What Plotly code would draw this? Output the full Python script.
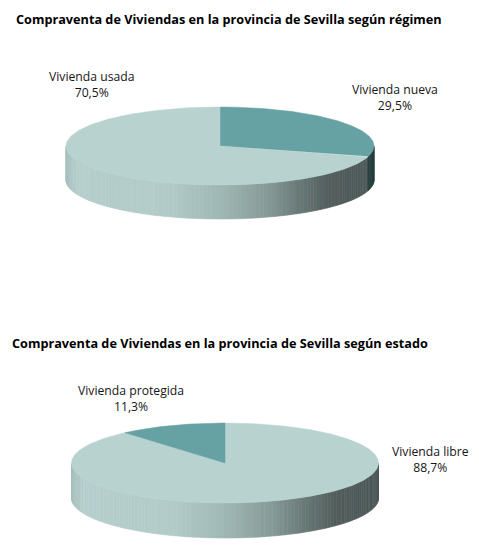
import math
import plotly.graph_objects as go

# ---- data ----
titles = [
    "Compraventa de Viviendas en la provincia de Sevilla según régimen",
    "Compraventa de Viviendas en la provincia de Sevilla según estado",
]
cats_regimen = ["Vivienda nueva", "Vivienda usada"]
vals_regimen = [29.5, 70.5]
cats_estado = ["Vivienda libre", "Vivienda protegida"]
vals_estado = [88.7, 11.3]

# ---- styling / geometry ----
W, H = 479, 549
top_colors = {"Vivienda nueva": "#66a1a4", "Vivienda usada": "#b7d2cf",
              "Vivienda libre": "#b7d2cf", "Vivienda protegida": "#66a1a4"}
light_stops = [(0.0, (166, 191, 189)), (0.04, (181, 206, 204)), (0.33, (178, 203, 200)),
               (0.5, (160, 184, 181)), (0.65, (135, 155, 152)), (0.76, (104, 121, 118)),
               (0.86, (82, 93, 92)), (1.0, (76, 88, 87))]
dark_stops = [(0.0, (60, 95, 96)), (0.8, (45, 72, 72)), (1.0, (36, 60, 60))]
wall_style = {"Vivienda nueva": dark_stops, "Vivienda usada": light_stops,
              "Vivienda libre": light_stops, "Vivienda protegida": dark_stops}

charts = [
    dict(cats=cats_regimen, vals=vals_regimen, cx=220, cy=146, rx=154, ry=39, depth=34,
         title_xy=(14, 19),
         label_xy={"Vivienda usada": (92, 84), "Vivienda nueva": (395, 97)}),
    dict(cats=cats_estado, vals=vals_estado, cx=225, cy=463, rx=153.5, ry=40, depth=35,
         title_xy=(10, 343),
         label_xy={"Vivienda protegida": (131, 398), "Vivienda libre": (430, 459)}),
]


def interp(stops, t):
    t = max(0.0, min(1.0, t))
    for (t0, c0), (t1, c1) in zip(stops, stops[1:]):
        if t <= t1:
            f = (t - t0) / (t1 - t0) if t1 > t0 else 0
            c = [round(a + (b - a) * f) for a, b in zip(c0, c1)]
            return "rgb(%d,%d,%d)" % tuple(c)
    return "rgb(%d,%d,%d)" % stops[-1][1]


def fmt_pct(v):
    return ("%.1f" % v).replace(".", ",") + "%"


fig = go.Figure()
annotations = []

for k, ch in enumerate(charts):
    cats, vals = ch["cats"], ch["vals"]
    cx, cy, rx, ry, d = ch["cx"], ch["cy"], ch["rx"], ch["ry"], ch["depth"]
    total = sum(vals)
    # slices go clockwise from 12 o'clock
    bounds = []
    cum = 0.0
    for c, v in zip(cats, vals):
        a_start = 90 - cum / total * 360
        cum += v
        a_end = 90 - cum / total * 360
        bounds.append((c, a_end, a_start))

    def slice_of(theta, cats=cats, vals=vals, total=total):
        phi = (90 - theta) % 360
        acc = 0.0
        for c, v in zip(cats, vals):
            acc += v / total * 360
            if phi <= acc:
                return c
        return cats[-1]

    def pt(theta, dy=0.0, cx=cx, cy=cy, rx=rx, ry=ry):
        r = math.radians(theta)
        return cx + rx * math.cos(r), cy - ry * math.sin(r) + dy

    # --- front wall (theta 180..360) ---
    edges = [180 + i * 1.5 for i in range(121)]
    for c, a, b in bounds:
        for ang in (a, b):
            m = ang % 360
            if 180 < m < 360:
                edges.append(m)
    edges = sorted(set(round(e, 6) for e in edges))
    for t1, t2 in zip(edges, edges[1:]):
        mid = (t1 + t2) / 2
        c = slice_of(mid)
        xm, _ = pt(mid)
        frac = (xm - (cx - rx)) / (2 * rx)
        col = interp(wall_style[c], frac)
        p1, p2 = pt(t1), pt(t2)
        q2, q1 = pt(t2, d), pt(t1, d)
        fig.add_trace(go.Scatter(
            x=[p1[0], p2[0], q2[0], q1[0], p1[0]],
            y=[p1[1], p2[1], q2[1], q1[1], p1[1]],
            mode="lines", fill="toself", fillcolor=col,
            line=dict(color=col, width=0.6), hoverinfo="skip", showlegend=False))

    # --- top surface ---
    for c, a, b in bounds:
        n = max(8, int((b - a) / 1.0))
        xs, ys = [cx], [cy]
        for i in range(n + 1):
            x, y = pt(a + (b - a) * i / n)
            xs.append(x)
            ys.append(y)
        xs.append(cx)
        ys.append(cy)
        fig.add_trace(go.Scatter(
            x=xs, y=ys, mode="lines", fill="toself", fillcolor=top_colors[c],
            line=dict(color=top_colors[c], width=0.5), name=c,
            text=c + " " + fmt_pct(vals[cats.index(c)] / total * 100),
            hoverinfo="text", showlegend=False))

    # --- labels ---
    for c, v in zip(cats, vals):
        lx, ly = ch["label_xy"][c]
        annotations.append(dict(
            x=lx, y=ly, xref="x", yref="y", showarrow=False,
            text=c + "<br>" + fmt_pct(v / total * 100),
            font=dict(family="Open Sans", size=12.2, color="#161616"),
            xanchor="center", yanchor="middle", align="center"))

    tx, ty = ch["title_xy"]
    annotations.append(dict(x=tx, y=ty, xref="x", yref="y", showarrow=False,
                            text="<b>" + titles[k] + "</b>",
                            font=dict(family="Open Sans", size=12.7, color="#000000"),
                            xanchor="left", yanchor="middle"))

fig.update_layout(
    width=W, height=H, margin=dict(l=0, r=0, t=0, b=0),
    paper_bgcolor="white", plot_bgcolor="white",
    xaxis=dict(range=[0, W], visible=False, fixedrange=True),
    yaxis=dict(range=[H, 0], visible=False, fixedrange=True),
    annotations=annotations,
)
fig.write_html("out.html", config={"displayModeBar": False},
               post_script="document.body.style.margin='0';document.body.style.overflow='hidden';")
